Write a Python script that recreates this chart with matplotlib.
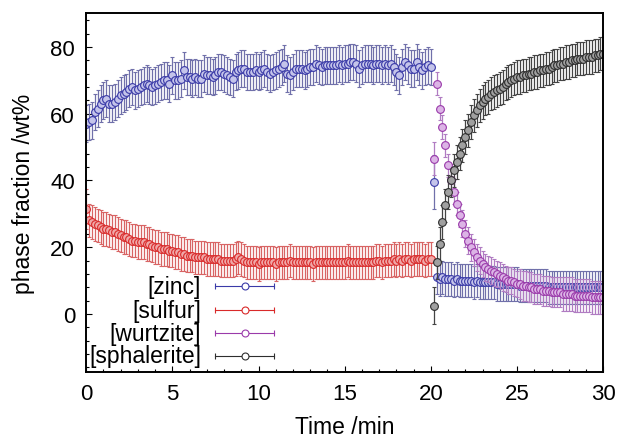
import numpy as np
import matplotlib
matplotlib.use("Agg")
import matplotlib.pyplot as plt
from matplotlib.ticker import MultipleLocator

plt.rcParams['font.family'] = ['Liberation Sans', 'DejaVu Sans']

# scans every 10 s; before the switch (0-20 min) and after it (20.17-30 min)
t_pre = np.arange(121) / 6.0
t_post = np.arange(121, 181) / 6.0

zinc_pre = [57, 57.5, 58, 60.5, 61.5, 63, 64, 64.5, 63, 63, 63.5, 64.5, 65.5, 66, 66.5, 67.5,
            68, 67, 67.5, 68, 68.5, 69, 68.5, 68, 68.5, 69, 69.5, 70, 70, 69, 71.5, 70,
            70, 70.5, 73, 71, 71, 70.5, 71, 70.5, 70.5, 72, 71.5, 71.5, 71, 71.5, 72.5, 72.5,
            72, 71.5, 71, 70.5, 72.5, 73, 73.5, 73.5, 72.5, 72.5, 72.5, 73, 72.5, 73, 73.5, 72.5,
            72, 72.5, 73, 73.5, 74, 75, 72, 71.5, 72.5, 73.5, 73.5, 73.5, 73, 73.5, 74, 74,
            75, 74.5, 74, 74.5, 74.5, 74.5, 74.5, 74.5, 75, 74.5, 75, 75, 75.5, 75.5, 75, 73.5,
            74.5, 75, 75, 75, 74.5, 75, 75, 74.5, 75, 74.5, 75, 74, 72.5, 71.5, 74, 75.5,
            74.5, 73.5, 73.5, 75.5, 74, 73, 74, 74.5, 74]
sulfur_pre = [31.5, 28, 27.5, 27, 26.5, 26, 25.5, 25.5, 25, 24.5, 24.5, 24, 23.5, 23, 23, 22.5,
              22, 22, 21.5, 21.5, 21.5, 21, 21, 20.5, 20, 20, 19.5, 19.5, 19.5, 19, 19, 18.5,
              18.5, 18, 18, 17.5, 17.5, 17.5, 17, 17, 17, 17, 16.5, 16.5, 16.5, 16.5, 16.5, 16,
              16, 16, 16, 16, 16.5, 17, 16.5, 16, 15.5, 15.5, 15.5, 15.5, 15, 15.5, 15.5, 15.5,
              15.5, 15.5, 15, 15.5, 15.5, 15.5, 15.5, 16, 15.5, 15.5, 15.5, 15.5, 15.5, 15.5, 15.5, 15,
              15.5, 15.5, 15.5, 15.5, 15.5, 15.5, 15.5, 15.5, 15.5, 15.5, 15.5, 16, 15.5, 15.5, 15.5, 15.5,
              15.5, 15.5, 15.5, 15.5, 15.5, 16, 16, 15.5, 16, 16, 16, 16.5, 16, 16.5, 16, 16.5,
              16.5, 16, 16.5, 16.5, 16.5, 16.5, 16, 16.5, 16.5]
zinc_post = [39.5, 11, 10.5, 11, 10.5, 10.5, 10.5, 10, 10.5, 10, 10, 10, 10, 10, 9.5, 10,
             9.5, 9.5, 9.5, 9.5, 9.5, 9.5, 9, 9, 9, 9, 9, 9, 9, 9, 8.5, 8.5,
             8.5, 8.5, 8.5, 8.5, 8.5, 8.5, 8.5, 8.5, 8, 8, 8, 8, 8, 8, 8, 8,
             8, 8, 8, 8, 8, 8, 8, 8, 8, 8, 8, 8]
wurtzite = [46.5, 69, 61.5, 56, 50.5, 44.5, 40, 36.5, 33, 29.5, 27, 24, 22, 20, 18.5, 17,
            16, 15, 14, 13.5, 13, 12.5, 12, 11.5, 11, 10.5, 10, 10, 9.5, 9, 9, 8.5,
            8.5, 8, 8, 7.5, 7.5, 7.5, 7, 7, 7, 6.5, 6.5, 6.5, 6.5, 6, 6, 6,
            6, 5.5, 5.5, 5.5, 5.5, 5.5, 5.5, 5, 5, 5, 5, 5]
sphalerite = [2.5, 15.5, 21, 27.5, 32.5, 36.5, 40, 43, 45.5, 48, 50.5, 53, 55, 57.5, 59.5, 61,
              62.5, 63.5, 64.5, 65, 66, 66.5, 67, 67.5, 68, 69, 69.5, 70, 70.5, 71, 71, 71.5,
              71.5, 72, 72, 72.5, 72.5, 73, 73, 73.5, 73.5, 74, 74.5, 74.5, 75, 75, 75.5, 75.5,
              76, 76, 76.5, 76.5, 76.5, 77, 77, 77, 77.5, 77.5, 78, 78]

err_zinc_pre = [5.5] * 121
err_sulfur_pre = [6] + [5] * 120
err_zinc_post = [8] + [5] * 59
err_wurtzite = [5, 3.5, 3.5, 3.5, 3.5, 3.5, 3.5, 3.5, 3.5, 3.5] + [4] * 20 + [4.5] * 15 + [5] * 15
err_sphalerite = [5.5] + [5] * 59

labels = ['[zinc]', '[sulfur]', '[wurtzite]', '[sphalerite]']
colors = ['#3a3aa8', '#d92a2a', '#9a3aaa', '#2e2e2e']
bar_colors = ['#7070aa', '#d86464', '#b07cc2', '#444444']
face_colors = ['#c4c4ea', '#f0a8a8', '#dcb4e6', '#a0a0a0']

fig = plt.figure(figsize=(6.2, 4.39), dpi=100, facecolor='white')
ax = fig.add_axes([0.139, 0.151, 0.834, 0.816])

def draw(t, y, e, i):
    ax.errorbar(t, y, yerr=e, fmt='o', ms=5.6, mew=0.8, mec=colors[i], mfc=face_colors[i],
                ecolor=bar_colors[i], elinewidth=0.9, capsize=1.4, capthick=0.9, zorder=2 + i * 0.1)

draw(t_pre, sulfur_pre, err_sulfur_pre, 1)
draw(t_pre, zinc_pre, err_zinc_pre, 0)
draw(t_post, zinc_post, err_zinc_post, 0)
draw(t_post, wurtzite, err_wurtzite, 2)
draw(t_post, sphalerite, err_sphalerite, 3)

# gnuplot-style key: right-aligned names, sample line with end caps and a circle
key_y = [0.239, 0.172, 0.108, 0.044]
for i in range(4):
    ax.text(0.222, key_y[i], labels[i], transform=ax.transAxes, ha='right', va='center',
            fontsize=16.5)
    ax.plot([0.249, 0.364], [key_y[i]] * 2, transform=ax.transAxes, color=colors[i], lw=0.8,
            marker='|', ms=4, mew=0.8, markevery=[0, 1])
    ax.plot([0.3065], [key_y[i]], transform=ax.transAxes, marker='o', ms=5, mew=0.8,
            mec=colors[i], mfc='white')

ax.set_xlim(0, 30)
ax.set_ylim(-17.3, 90)
ax.xaxis.set_major_locator(MultipleLocator(5))
ax.xaxis.set_minor_locator(MultipleLocator(1))
ax.yaxis.set_major_locator(MultipleLocator(20))
ax.yaxis.set_minor_locator(MultipleLocator(4))
ax.tick_params(which='both', direction='in', top=False, right=False, labelsize=16, width=0.8)
ax.tick_params(which='major', length=4.5, pad=8)
ax.tick_params(which='minor', length=2.5)
for s in ax.spines.values():
    s.set_linewidth(1.4)

ax.set_xlabel('Time /min', fontsize=16.5, labelpad=8)
ax.set_ylabel('phase fraction /wt%', fontsize=16.5, labelpad=11)

fig.savefig('out.png', dpi=100, facecolor='white')
